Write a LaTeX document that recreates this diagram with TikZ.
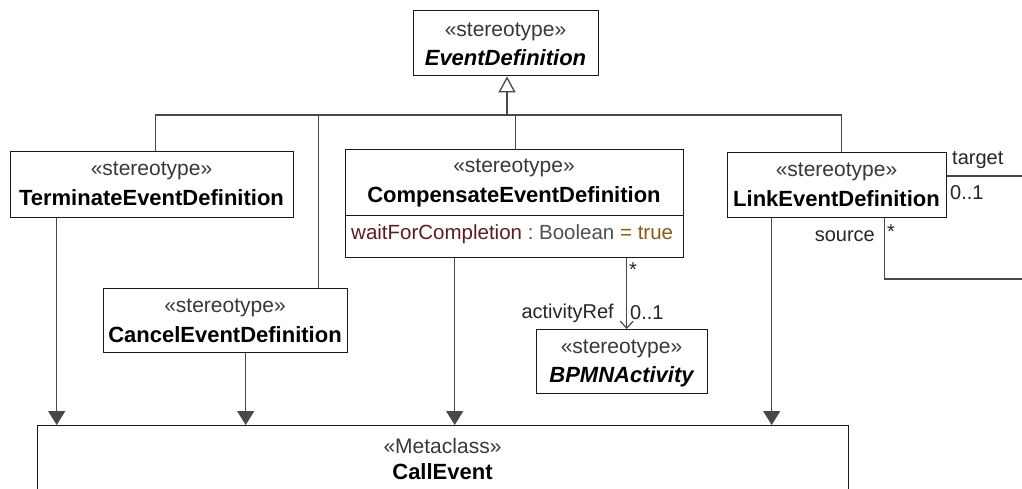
\documentclass[tikz,border=0pt]{standalone}
\usepackage{fontspec}
\setmainfont{Liberation Sans}
\usetikzlibrary{arrows.meta}
\definecolor{ln}{HTML}{484848}
\definecolor{bd}{HTML}{1A1A1A}
\definecolor{attrn}{HTML}{5A1E1E}
\definecolor{attrv}{HTML}{8A5A14}
\definecolor{attrt}{HTML}{505050}
\definecolor{sttxt}{HTML}{383838}
\begin{document}
\begin{tikzpicture}[x=1pt,y=-1pt,
  box/.style={draw=bd, line width=1.4pt, fill=white, inner sep=0pt, anchor=north west},
  sttext/.style={text=sttxt, font=\fontsize{21}{24}\selectfont, inner sep=0pt},
  nmtext/.style={font=\fontsize{22}{24}\selectfont\bfseries, inner sep=0pt},
  nmitext/.style={font=\fontsize{22}{24}\selectfont\bfseries\itshape, inner sep=0pt},
  lbl/.style={font=\fontsize{20}{24}\selectfont, inner sep=0pt, text=black!85},
  conn/.style={draw=ln, line width=1.3pt},
  gen/.style={conn, -{Triangle[open, length=16pt, width=17pt, line width=1.3pt]}},
  real/.style={conn, -{Triangle[length=14pt, width=17pt]}},
  assoc/.style={conn, -{Straight Barb[length=7pt, width=13pt, line width=1.2pt]}}
]
\path[use as bounding box, clip] (0,0) rectangle (1022,489);
\fill[white] (0,0) rectangle (1022,489);

% boxes
\node[box, minimum width=185pt, minimum height=65pt] (evdef) at (413,10) {};
\node[sttext] (evdefst) at (505.5,32) {«stereotype»};
\node[nmitext] (evdefnm) at (505.5,58) {EventDefinition};

\node[box, minimum width=283pt, minimum height=66pt] (term) at (10,151) {};
\node[sttext] (termst) at (151.5,171) {«stereotype»};
\node[nmtext] (termnm) at (151.5,198) {TerminateEventDefinition};

\node[box, minimum width=244pt, minimum height=64pt] (cancel) at (103,288) {};
\node[sttext] (cancelst) at (225,308) {«stereotype»};
\node[nmtext] (cancelnm) at (225,335) {CancelEventDefinition};

\node[box, minimum width=338pt, minimum height=66pt] (comp) at (345,149) {};
\node[sttext] (compst) at (514,168) {«stereotype»};
\node[nmtext] (compnm) at (514,197) {CompensateEventDefinition};
\node[box, minimum width=338pt, minimum height=42pt] (compattr) at (345,215) {};
\node[font=\fontsize{20.5}{24}\selectfont, inner sep=0pt, anchor=west] (attr) at (351,234)
  {\textcolor{attrn}{waitForCompletion}~\textcolor{attrt}{:~Boolean}~\textcolor{attrv}{=~true}};

\node[box, minimum width=219pt, minimum height=65pt] (link) at (727,152) {};
\node[sttext] (linkst) at (836.5,172) {«stereotype»};
\node[nmtext] (linknm) at (836.5,199) {LinkEventDefinition};

\node[box, minimum width=171pt, minimum height=64pt] (bpmn) at (536,329) {};
\node[sttext] (bpmnst) at (621.5,349) {«stereotype»};
\node[nmitext] (bpmnnm) at (621.5,377) {BPMNActivity};

\node[box, minimum width=811pt, minimum height=100pt] (call) at (37,425) {};
\node[sttext] (callst) at (442.5,446) {«Metaclass»};
\node[nmtext] (callnm) at (442.5,472) {CallEvent};

% generalization tree
\coordinate (bus) at (507,115);
\draw[gen] (bus) -- (bus |- evdef.south);
\draw[conn] ([xshift=3.5pt]term.north) |- (bus);
\draw[conn] ([xshift=93pt]cancel.north) |- (bus);
\draw[conn] ([xshift=1pt]comp.north) |- (bus);
\draw[conn] ([xshift=4.5pt]link.north) |- (bus);

% realizations to CallEvent
\draw[real] ([xshift=-95.5pt]term.south) -- ([xshift=-95.5pt]term.south |- call.north);
\draw[real] ([xshift=20pt]cancel.south) -- ([xshift=20pt]cancel.south |- call.north);
\draw[real] ([xshift=-60pt]compattr.south) -- ([xshift=-60pt]compattr.south |- call.north);
\draw[real] ([xshift=-65.5pt]link.south) -- ([xshift=-65.5pt]link.south |- call.north);

% association activityRef
\draw[assoc] ([xshift=112pt]compattr.south) -- ([xshift=112pt]compattr.south |- bpmn.north);
\node[lbl, anchor=center] (mstar1) at (633,270) {*};
\node[lbl, anchor=east] (actref) at (614,313) {activityRef};
\node[lbl, anchor=west] (m01a) at (630,313) {0..1};

% self association of LinkEventDefinition
\coordinate (tgtend) at (1022,176);
\coordinate (srcend) at (1022,279);
\draw[conn] (link.east |- tgtend) -- (tgtend);
\draw[conn] ([xshift=47.5pt]link.south) |- (srcend);
\node[lbl, anchor=west] (tgt) at (952,160) {target};
\node[lbl, anchor=west] (m01b) at (950,193) {0..1};
\node[lbl, anchor=east] (src) at (875,236) {source};
\node[lbl, anchor=center] (mstar2) at (891,232) {*};
\end{tikzpicture}
\end{document}
